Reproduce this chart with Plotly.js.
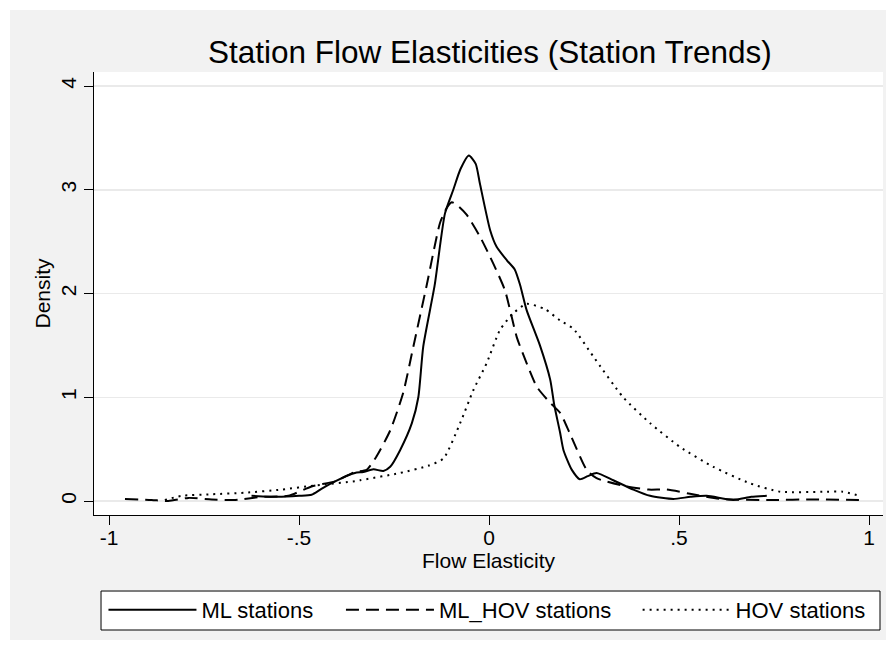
<!DOCTYPE html>
<html>
<head>
<meta charset="utf-8">
<script src="https://cdn.plot.ly/plotly-3.0.1.min.js"></script>
<style>html,body{margin:0;padding:0;background:#fff;}#chart{width:894px;height:653px;}</style>
</head>
<body>
<div id="chart"></div>
<script>
// ML stations (solid)
const mlX = [-0.625,-0.554,-0.50,-0.467,-0.44,-0.405,-0.353,-0.331,-0.304,-0.278,-0.26,-0.234,-0.203,-0.186,-0.173,-0.143,-0.116,-0.094,-0.075,-0.053,-0.035,-0.024,0.003,0.02,0.047,0.068,0.082,0.099,0.134,0.161,0.172,0.187,0.196,0.218,0.239,0.26,0.283,0.327,0.38,0.424,0.485,0.53,0.573,0.643,0.69,0.731];
const mlY = [0.05,0.04,0.05,0.06,0.12,0.19,0.27,0.28,0.305,0.29,0.33,0.49,0.75,1.0,1.49,2.08,2.77,3.0,3.2,3.33,3.25,3.06,2.61,2.45,2.32,2.23,2.08,1.84,1.50,1.17,0.92,0.66,0.49,0.30,0.21,0.24,0.27,0.20,0.11,0.05,0.02,0.04,0.05,0.01,0.04,0.05];
// ML_HOV stations (dashed)
const mlhovX = [-0.958,-0.888,-0.844,-0.791,-0.73,-0.668,-0.598,-0.528,-0.467,-0.405,-0.353,-0.322,-0.296,-0.26,-0.226,-0.199,-0.164,-0.129,-0.112,-0.098,-0.08,-0.059,-0.024,0.011,0.042,0.073,0.10,0.126,0.16,0.187,0.213,0.257,0.283,0.362,0.42,0.468,0.529,0.608,0.748,0.85,0.99];
const mlhovY = [0.02,0.01,0.0,0.03,0.015,0.01,0.04,0.05,0.14,0.19,0.28,0.30,0.43,0.68,1.04,1.49,2.08,2.68,2.82,2.88,2.84,2.76,2.55,2.29,2.03,1.58,1.32,1.10,0.95,0.85,0.65,0.30,0.22,0.14,0.11,0.11,0.07,0.02,0.01,0.015,0.01];
// HOV stations (dotted)
const hovX = [-0.853,-0.809,-0.73,-0.642,-0.546,-0.458,-0.353,-0.339,-0.234,-0.16,-0.12,-0.076,-0.041,-0.006,0.029,0.064,0.099,0.147,0.187,0.222,0.275,0.353,0.424,0.503,0.59,0.687,0.766,0.889,0.93,0.976];
const hovY = [0.01,0.05,0.065,0.08,0.11,0.15,0.19,0.20,0.27,0.34,0.41,0.75,1.07,1.33,1.65,1.81,1.90,1.85,1.74,1.66,1.39,1.0,0.75,0.52,0.33,0.17,0.09,0.09,0.09,0.05];

const seriesNames = ['ML stations','ML_HOV stations','HOV stations'];
const xTickVals = [-1,-0.5,0,0.5,1];
const xTickText = ['-1','-.5','0','.5','1'];
const yTickVals = [0,1,2,3,4];
const yTickText = ['0','1','2','3','4'];

const FONT = 'Liberation Sans, Arial, Helvetica, sans-serif';

const traces = [
  {x: mlX, y: mlY, name: seriesNames[0], mode: 'lines', legend: 'legend',
   line: {color: '#000', width: 2, shape: 'spline', smoothing: 0.6}},
  {x: mlhovX, y: mlhovY, name: seriesNames[1], mode: 'lines', legend: 'legend2',
   line: {color: '#000', width: 2, dash: '13px,7px', shape: 'spline', smoothing: 0.6}},
  {x: hovX, y: hovY, name: seriesNames[2], mode: 'lines', legend: 'legend3',
   line: {color: '#000', width: 2, dash: '2px,5px', shape: 'spline', smoothing: 0.6}}
];

const legendBase = {orientation: 'h', y: -0.2144, yanchor: 'middle', xanchor: 'left',
  bgcolor: 'rgba(0,0,0,0)', borderwidth: 0, itemwidth: 88,
  font: {family: FONT, size: 22, color: '#000'}};

const layout = {
  width: 894, height: 653,
  margin: {l: 94, r: 11, t: 72, b: 138},
  paper_bgcolor: '#ffffff',
  plot_bgcolor: 'rgba(0,0,0,0)',
  font: {family: FONT, color: '#000'},
  title: {text: 'Station Flow Elasticities (Station Trends)', font: {family: FONT, size: 31.5, color: '#000'},
          x: 0.548, xanchor: 'center', y: 0.921, yanchor: 'middle'},
  xaxis: {range: [-1.0395, 1.0368], tickvals: xTickVals, ticktext: xTickText,
          showline: true, linecolor: '#000', linewidth: 1, ticks: 'outside', ticklen: 9, tickcolor: '#000', tickwidth: 1,
          ticklabelstandoff: -5,
          showgrid: false, zeroline: false, tickfont: {family: FONT, size: 21, color: '#000'},
          title: {text: 'Flow Elasticity', font: {family: FONT, size: 21, color: '#000'}, standoff: 2}},
  yaxis: {range: [-0.1349, 4.135], tickvals: yTickVals, ticktext: yTickText, tickangle: -90,
          showline: true, linecolor: '#000', linewidth: 1, ticks: 'outside', ticklen: 9, tickcolor: '#000', tickwidth: 1,
          showgrid: true, gridcolor: '#eaeaea', gridwidth: 1.5, zeroline: false,
          tickfont: {family: FONT, size: 21, color: '#000'},
          title: {text: 'Density', font: {family: FONT, size: 21, color: '#000'}, standoff: 0}},
  legend: Object.assign({}, legendBase, {x: 0.012}),
  legend2: Object.assign({}, legendBase, {x: 0.313}),
  legend3: Object.assign({}, legendBase, {x: 0.689}),
  showlegend: true,
  shapes: [
    {type: 'rect', xref: 'paper', yref: 'paper', x0: -0.1065, x1: 1.0038, y0: -0.282, y1: 1.140,
     fillcolor: '#f2f2f2', line: {width: 0}, layer: 'below'},
    {type: 'rect', xref: 'paper', yref: 'paper', x0: 0, x1: 1, y0: 0, y1: 1,
     fillcolor: '#ffffff', line: {width: 0}, layer: 'below'},
    {type: 'rect', xref: 'paper', yref: 'paper', x0: 0.0089, x1: 0.9962, y0: -0.2596, y1: -0.1716,
     fillcolor: '#ffffff', line: {color: '#000', width: 1}, layer: 'below'}
  ]
};

Plotly.newPlot('chart', traces, layout, {staticPlot: true, displayModeBar: false});
</script>
</body>
</html>
